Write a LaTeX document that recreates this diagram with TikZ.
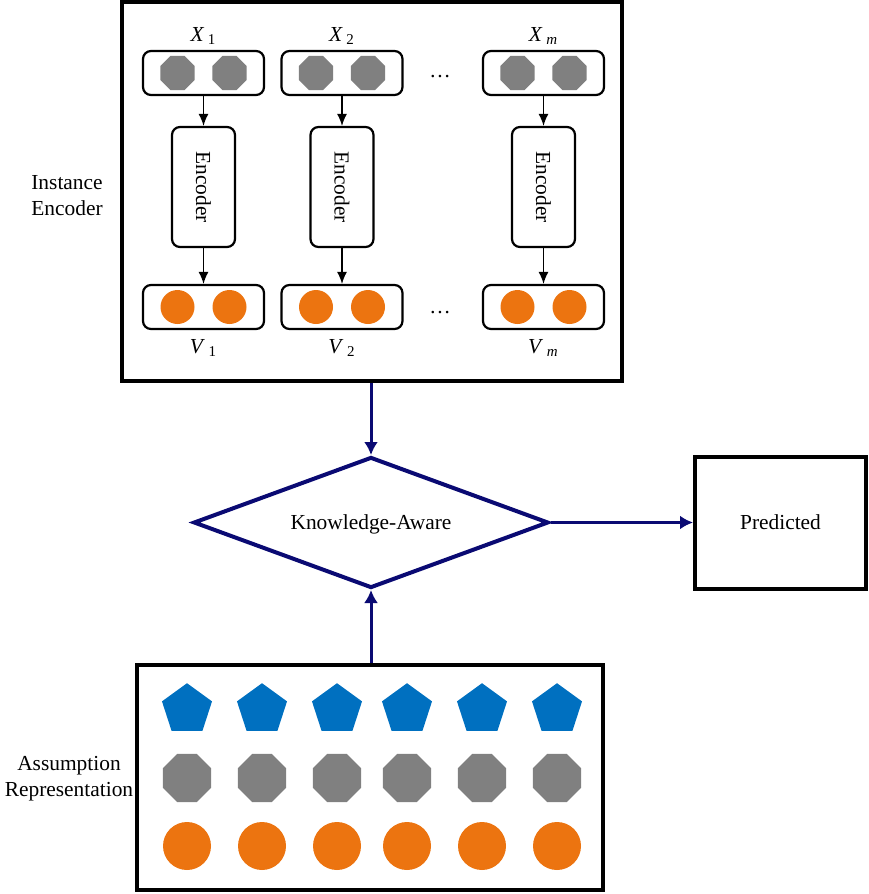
\documentclass[tikz,border=0pt]{standalone}
\usepackage{fontspec}
\setmainfont{Liberation Serif}
\usetikzlibrary{arrows.meta,positioning,shapes.geometric}
\definecolor{octgray}{RGB}{128,128,128}
\definecolor{ballorange}{RGB}{236,116,16}
\definecolor{pentblue}{RGB}{0,112,192}
\definecolor{kanavy}{RGB}{10,10,115}
\tikzset{
	bigframe/.style={draw, line width=2pt, inner sep=0pt},
	vecbox/.style={draw, rounded corners=4pt, line width=1.1pt, minimum width=60.5pt, minimum height=22pt},
	encbox/.style={draw, rounded corners=4pt, line width=1.1pt, minimum width=31.5pt, minimum height=60pt, inner sep=0pt},
	octa/.style={regular polygon, regular polygon sides=8, fill=octgray, inner sep=0pt, minimum size=#1},
	penta/.style={regular polygon, regular polygon sides=5, fill=pentblue, inner sep=0pt, minimum size=#1},
	ball/.style={circle, fill=ballorange, inner sep=0pt, minimum size=#1},
	thinarrow/.style={-{Latex[length=6pt,width=5pt]}, line width=0.7pt},
	kaarrow/.style={-{Latex[length=6.5pt,width=7pt]}, line width=1.5pt, draw=kanavy}
}

\begin{document}
\begin{tikzpicture}[x=0.5pt, y=-0.5pt, font=\fontsize{10.7}{13}\selectfont]
	\useasboundingbox (0,0) rectangle (868,894);
	% instance encoder
	\node[bigframe, minimum width=250.25pt, minimum height=189.5pt] (encframe) at (371.75,191.5) {};
	\node[align=center] (instlabel) at (67,196) {Instance\\Encoder};
	\foreach \c/\x/\s in {1/203.5/1, 2/342/2, m/543.5/\textit{m}} {
		\node[anchor=base] (x\c) at (\x,41) {\textit{X}\,\textsubscript{\s}};
		\node[vecbox] (in\c) at (\x,73) {};
		\node[octa=18.5pt] (in\c-a) at ([xshift=-13pt]in\c.center) {};
		\node[octa=18.5pt] (in\c-b) at ([xshift=13pt]in\c.center) {};
		\node[encbox] (enc\c) at (\x,187) {\rotatebox{-90}{Encoder}};
		\node[vecbox] (out\c) at (\x,307) {};
		\node[ball=17pt] (out\c-a) at ([xshift=-13pt]out\c.center) {};
		\node[ball=17pt] (out\c-b) at ([xshift=13pt]out\c.center) {};
		\node[anchor=base] (v\c) at (\x,353) {\textit{V}\,\textsubscript{\s}};
		\draw[thinarrow] (in\c) -- (enc\c);
		\draw[thinarrow] (enc\c) -- (out\c);
	}
	\node (indots) at (440,77) {\dots};
	\node (outdots) at (440,313) {\dots};
	% knowledge-aware part
	\node[draw=kanavy, line width=2pt, diamond, aspect=2.7, minimum width=177.5pt, minimum height=65.5pt, inner sep=0pt, text depth=0pt] (kaware) at (371,522.5) {Knowledge-Aware};
	\node[bigframe, minimum width=85.5pt, minimum height=66pt, text depth=0pt] (pred) at (780.5,522.5) {Predicted};
	\draw[kaarrow] (encframe.south -| kaware.north) -- (kaware.north);
	\draw[kaarrow] (kaware.east) -- (pred.west);
	% assumption representation
	\node[bigframe, minimum width=233pt, minimum height=112.5pt] (assumframe) at (370,777.5) {};
	\node[align=center] (assumlabel) at (69,779) {Assumption\\Representation};
	\draw[kaarrow] (assumframe.north -| kaware.south) -- (kaware.south);
	\foreach \x [count=\i] in {187,262,337,407,482,557} {
		\node[penta=26.3pt] (p\i) at (\x,709.5) {};
		\node[octa=26pt] (o\i) at (\x,778) {};
		\node[ball=24pt] (b\i) at (\x,846) {};
	}
\end{tikzpicture}
\end{document}
